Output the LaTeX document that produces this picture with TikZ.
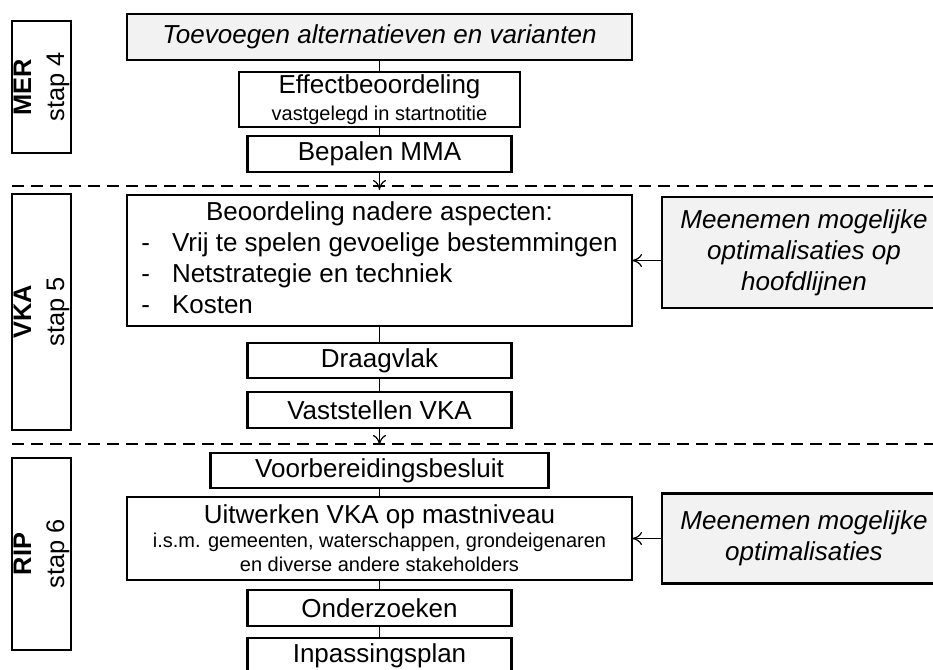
\documentclass[tikz,border=0pt]{standalone}
\usepackage{fontspec}
\setmainfont{Liberation Sans}
\usetikzlibrary{positioning,arrows.meta}
\newcommand{\kleinfont}{\fontsize{10}{11}\selectfont}

\begin{document}
\begin{tikzpicture}[x=0.5pt, y=-0.5pt, >={To[length=5pt,width=6.5pt]},
    main/.style = {draw, line width=1.4pt, minimum width=132pt, minimum height=18pt, inner sep=0pt, outer sep=0pt, align=center, font=\fontsize{13}{15.5}\selectfont},
    grey/.style = {main, fill=black!5, font=\fontsize{13}{15.5}\selectfont\itshape},
    phase/.style = {main, rotate=90, minimum height=29.5pt, font=\fontsize{12.7}{16.5}\selectfont},
    link/.style = {line width=0.6pt},
    sep/.style = {line width=1.4pt, dash pattern=on 6pt off 3.5pt}]
    \useasboundingbox (0,0) rectangle (933,670);
    \node[grey, minimum width=252.5pt, minimum height=23pt] (1) at (379.5,37) {Toevoegen alternatieven en varianten};
    \node[main, minimum width=140.5pt, minimum height=27.5pt] (2) [below=6pt of 1] {Effectbeoordeling\\[-2pt]{\kleinfont vastgelegd in startnotitie}};
    \node[main] (3) [below=4.5pt of 2] {Bepalen MMA};
    \node[main, minimum width=252.5pt, minimum height=65.5pt] (4) [below=11.5pt of 3] {\begin{tabular}{@{}l@{\hspace{11pt}}l@{}}
        \multicolumn{2}{@{}c@{}}{Beoordeling nadere aspecten:}\\
        - & Vrij te spelen gevoelige bestemmingen\\
        - & Netstrategie en techniek\\
        - & Kosten
      \end{tabular}};
    \node[main, minimum height=17.5pt] (5) [below=8.5pt of 4] {Draagvlak};
    \node[main] (6) [below=7pt of 5] {Vaststellen VKA};
    \node[main, minimum width=169pt, minimum height=17.5pt] (7) [below=12.5pt of 6] {Voorbereidingsbesluit};
    \node[main, minimum width=252.5pt, minimum height=41.5pt] (8) [below=4.5pt of 7] {Uitwerken VKA op mastniveau\\[-3.5pt]{\kleinfont i.s.m. gemeenten, waterschappen, grondeigenaren}\\[-3.5pt]{\kleinfont en diverse andere stakeholders}};
    \node[main] (9) [below=5pt of 8] {Onderzoeken};
    \node[main] (10) [below=6pt of 9] {Inpassingsplan};
    \node[grey, minimum width=142pt, minimum height=55.5pt] (11) [right=15pt of 4, yshift=4pt] {Meenemen mogelijke\\optimalisaties op\\hoofdlijnen};
    \node[grey, minimum width=142pt, minimum height=45pt] (12) [right=15pt of 8] {Meenemen mogelijke\\optimalisaties};
    \node[phase, minimum width=66pt] (13) at (41.5,87) {\textbf{MER}\\stap 4};
    \node[phase, minimum width=118pt] (14) at (41.5,312) {\textbf{VKA}\\stap 5};
    \node[phase, minimum width=96pt] (15) at (41.5,554) {\textbf{RIP}\\stap 6};
    \draw[sep] (12,186) -- (940,186);
    \draw[sep] (12,444) -- (940,444);
    \draw[link] (1) -- (2);
    \draw[link] (2) -- (3);
    \draw[link, ->, shorten >=2.5pt] (3) -- (4);
    \draw[link] (4) -- (5);
    \draw[link] (5) -- (6);
    \draw[link, ->, shorten >=4pt] (6) -- (7);
    \draw[link] (7) -- (8);
    \draw[link] (8) -- (9);
    \draw[link] (9) -- (10);
    \draw[link, ->] (4.east -| 11.west) -- (4.east);
    \draw[link, ->] (12.west) -- (12.west -| 8.east);
\end{tikzpicture}
\end{document}
